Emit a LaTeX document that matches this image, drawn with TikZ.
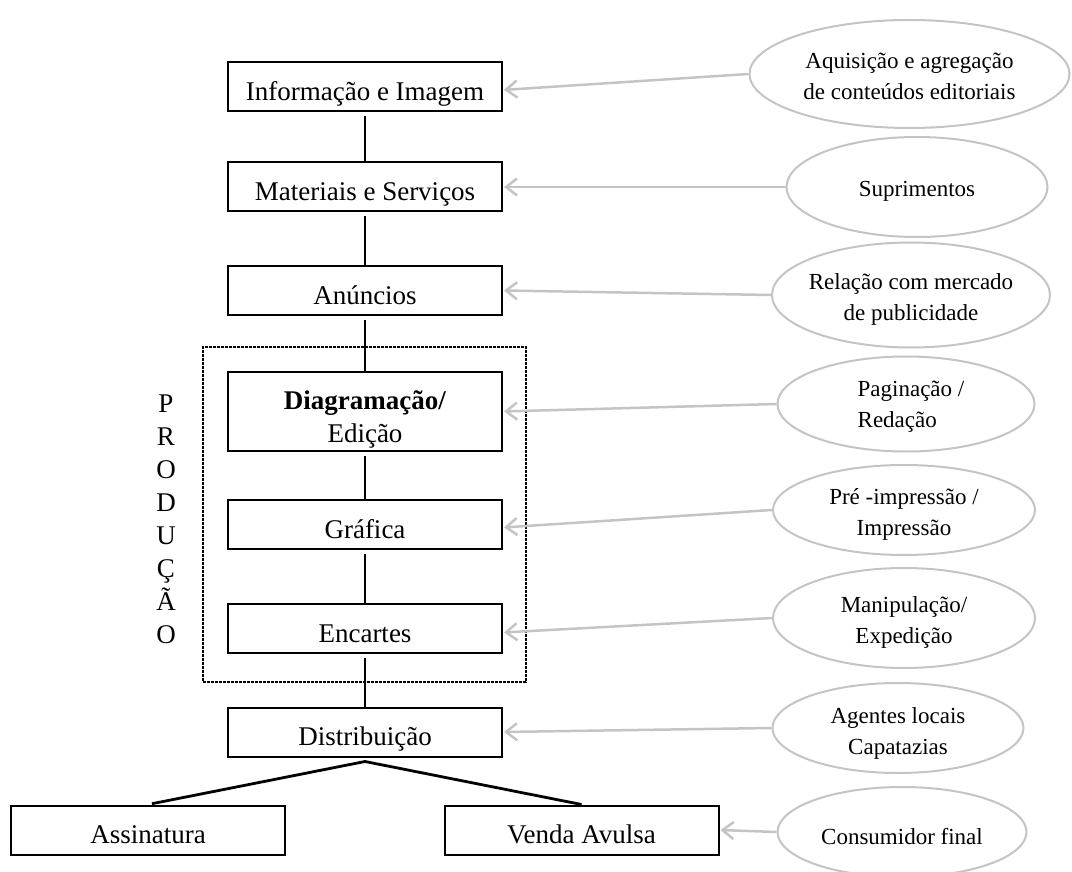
\documentclass[tikz,border=0pt]{standalone}
\usepackage{fontspec}
\setmainfont{Liberation Serif}
\usetikzlibrary{shapes.geometric,arrows.meta}
\definecolor{linkgray}{HTML}{C4C4C4}
\begin{document}
\begin{tikzpicture}[x=1pt,y=-1pt,
  stagebox/.style={draw, line width=2pt, minimum width=274pt, minimum height=49pt,
    inner ysep=0pt, text height=38pt, text depth=11pt, font=\fontsize{27}{33}\selectfont},
  agent/.style={draw=linkgray, line width=2pt, ellipse, inner sep=0pt},
  agenttext/.style={inner sep=0pt, align=center, font=\fontsize{23}{31}\selectfont},
  chain/.style={line width=2.8pt, shorten <=4pt},
  feed/.style={draw=linkgray, line width=2.5pt, -{Straight Barb[length=11pt,width=17pt]}, shorten >=1pt}
]
\useasboundingbox (0,0) rectangle (1072,872);

% production group frame
\node[draw, dash pattern=on 3pt off 1pt, line width=2.6pt, minimum width=323pt, minimum height=335pt]
  (grp) at (364.5,514.5) {};
\node[font=\fontsize{27}{33}\selectfont, align=center, inner sep=0pt]
  (prod) at (166,519) {P\\R\\O\\D\\U\\Ç\\Ã\\O};

% value chain stages
\node[stagebox] (b1) at (365,87) {Informação e Imagem};
\node[stagebox] (b2) at (365,187) {Materiais e Serviços};
\node[stagebox] (b3) at (365,290.5) {Anúncios};
\node[stagebox, minimum height=79pt, text height=70pt, text depth=9pt, align=center]
  (b4) at (365,411.5) {\textbf{Diagramação/}\\Edição};
\node[stagebox] (b5) at (365,524.5) {Gráfica};
\node[stagebox] (b6) at (365,628.5) {Encartes};
\node[stagebox] (b7) at (365,732) {Distribuição};
\node[stagebox] (b8) at (148,830) {Assinatura};
\node[stagebox] (b9) at (581.5,830) {Venda Avulsa};

% external agents
\node[agent, minimum width=320pt, minimum height=108pt] (e1) at (909.5,74) {};
\node[agent, minimum width=261pt, minimum height=100pt] (e2) at (917,187) {};
\node[agent, minimum width=278pt, minimum height=105pt] (e3) at (911,295) {};
\node[agent, minimum width=257pt, minimum height=95pt] (e4) at (906,404) {};
\node[agent, minimum width=262pt, minimum height=90pt] (e5) at (904,510) {};
\node[agent, minimum width=262pt, minimum height=100pt] (e6) at (904,618) {};
\node[agent, minimum width=251pt, minimum height=90pt] (e7) at (898,728) {};
\node[agent, minimum width=249pt, minimum height=90pt] (e8) at (902,832) {};

\node[agenttext] (t1) at ([yshift=-2pt]e1.center) {Aquisição e agregação\\de conteúdos editoriais};
\node[agenttext] (t2) at ([yshift=-4pt]e2.center) {Suprimentos};
\node[agenttext] (t3) at ([yshift=-4pt]e3.center) {Relação com mercado\\de publicidade};
\node[agenttext, align=left] (t4) at ([xshift=5pt,yshift=-3pt]e4.center) {Paginação /\\Redação};
\node[agenttext] (t5) at ([yshift=-4pt]e5.center) {Pré -impressão /\\Impressão};
\node[agenttext] (t6) at ([yshift=-4pt]e6.center) {Manipulação/\\Expedição};
\node[agenttext] (t7) at ([yshift=-5pt]e7.center) {Agentes locais\\Capatazias};
\node[agenttext] (t8) at ([yshift=-5pt]e8.center) {Consumidor final};

% chain links
\draw[chain] (b1.south) -- (b2.north);
\draw[chain] (b2.south) -- (b3.north);
\draw[chain] (b3.south) -- (b4.north);
\draw[chain] (b4.south) -- (b5.north);
\draw[chain] (b5.south) -- (b6.north);
\draw[chain] (b6.south) -- (b7.north);
\draw[chain] (b8.north) -- ([yshift=-4pt]b7.south) -- (b9.north);

% inputs from agents
\draw[feed] (e1.west) -- ([yshift=-3pt]b1.east);
\draw[feed] (e2.west) -- (b2.east);
\draw[feed] (e3.west) -- (b3.east);
\draw[feed] (e4.west) -- (b4.east);
\draw[feed] (e5.west) -- ([yshift=-3pt]b5.east);
\draw[feed] (e6.west) -- ([yshift=-4pt]b6.east);
\draw[feed] (e7.west) -- (b7.east);
\draw[feed] (e8.west) -- (b9.east);
\end{tikzpicture}
\end{document}
